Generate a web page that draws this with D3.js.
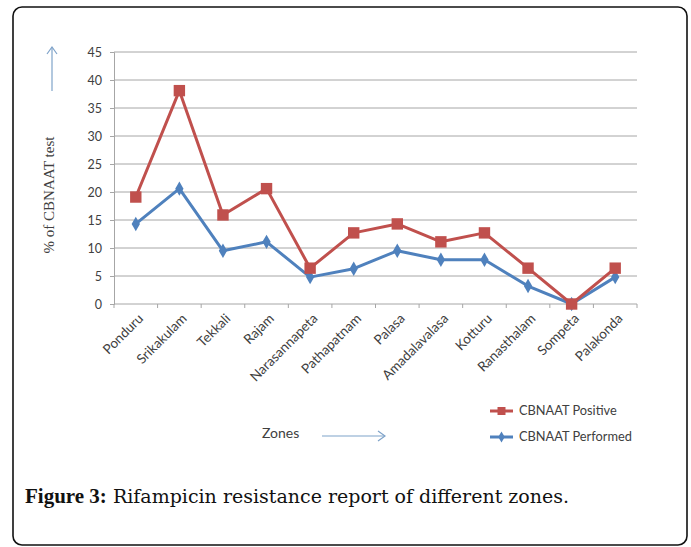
<!DOCTYPE html>
<html>
<head>
<meta charset="utf-8">
<script src="https://cdn.jsdelivr.net/npm/d3@7"></script>
<style>
  html, body { margin: 0; padding: 0; background: #fff; }
  svg { display: block; }
</style>
</head>
<body>
<svg id="chart" width="691" height="547"></svg>
<script>
// Zones and the two CBNAAT series (% of tests)
const zones = ["Ponduru", "Srikakulam", "Tekkali", "Rajam", "Narasannapeta", "Pathapatnam",
               "Palasa", "Amadalavalasa", "Kotturu", "Ranasthalam", "Sompeta", "Palakonda"];
const positive  = [19.1, 38.1, 15.9, 20.6, 6.4, 12.7, 14.3, 11.1, 12.7, 6.4, 0, 6.4];
const performed = [14.3, 20.6, 9.5, 11.1, 4.8, 6.3, 9.5, 7.9, 7.9, 3.2, 0, 4.8];
const yTicks = [0, 5, 10, 15, 20, 25, 30, 35, 40, 45];
const seriesNames = ["CBNAAT Positive", "CBNAAT Performed"];

const svg = d3.select("#chart");
const red = "#c0504d", blue = "#4f81bd";
const tickFont = "Lato, 'Open Sans', sans-serif";

// Figure frame
svg.append("rect")
  .attr("x", 13).attr("y", 7).attr("width", 674).attr("height", 538)
  .attr("rx", 9).attr("ry", 9)
  .attr("fill", "none").attr("stroke", "#111").attr("stroke-width", 1.6);

const plot = { left: 114, right: 637, top: 52, bottom: 304 };

const x = d3.scaleBand().domain(zones).range([plot.left, plot.right]);
const y = d3.scaleLinear().domain([0, 45]).range([plot.bottom, plot.top]);

// Horizontal gridlines
svg.append("g").selectAll("line").data(yTicks.filter(d => d > 0)).join("line")
  .attr("x1", plot.left).attr("x2", plot.right)
  .attr("y1", d => y(d)).attr("y2", d => y(d))
  .attr("stroke", "#a6a6a6").attr("stroke-width", 1);

// Y axis
const yAxis = svg.append("g")
  .attr("transform", `translate(${plot.left},0)`)
  .call(d3.axisLeft(y).tickValues(yTicks).tickSize(4).tickPadding(8));
yAxis.select(".domain").attr("stroke", "#a6a6a6");
yAxis.selectAll(".tick line").attr("stroke", "#a6a6a6");
yAxis.selectAll(".tick text")
  .attr("fill", "#404040").attr("font-family", tickFont).attr("font-size", 12.5);

// X axis: ticks at band edges, labels rotated
const xAxisG = svg.append("g").attr("transform", `translate(0,${plot.bottom})`);
xAxisG.append("line")
  .attr("x1", plot.left).attr("x2", plot.right)
  .attr("stroke", "#a6a6a6");
const edges = zones.map(z => x(z)).concat([plot.right]);
xAxisG.selectAll("line.edge").data(edges).join("line").attr("class", "edge")
  .attr("x1", d => d).attr("x2", d => d).attr("y1", 0).attr("y2", 4)
  .attr("stroke", "#a6a6a6");
xAxisG.selectAll("text").data(zones).join("text")
  .attr("transform", d => `translate(${x(d) + x.bandwidth() / 2 + 5},12) rotate(-45)`)
  .attr("text-anchor", "end").attr("dy", "0.35em")
  .attr("fill", "#404040").attr("font-family", tickFont).attr("font-size", 13.5)
  .text(d => d);

// Lines and markers
const line = d3.line()
  .x((d, i) => x(zones[i]) + x.bandwidth() / 2)
  .y(d => y(d));

function drawSeries(values, color, shape) {
  svg.append("path").datum(values)
    .attr("d", line).attr("fill", "none")
    .attr("stroke", color).attr("stroke-width", 3).attr("stroke-linejoin", "round");
  const sym = shape === "square"
    ? d3.symbol().type(d3.symbolSquare).size(130)
    : d3.symbol().type(d3.symbolDiamond).size(60);
  svg.append("g").selectAll("path").data(values).join("path")
    .attr("transform", (d, i) => `translate(${x(zones[i]) + x.bandwidth() / 2},${y(d)})`)
    .attr("d", sym).attr("fill", color);
}
drawSeries(performed, blue, "diamond");
drawSeries(positive, red, "square");

// Y axis title and arrow
svg.append("text")
  .attr("transform", "translate(54,195) rotate(-90)")
  .attr("text-anchor", "middle")
  .attr("font-family", "'Liberation Serif', 'DejaVu Serif', serif").attr("font-size", 15)
  .attr("fill", "#404040")
  .text("% of CBNAAT test");

const arrowColor = "#7fa3c9";
svg.append("line").attr("x1", 52).attr("x2", 52).attr("y1", 47).attr("y2", 91)
  .attr("stroke", arrowColor).attr("stroke-width", 1.2);
svg.append("path").attr("d", "M47,54 L52,47 L57,54")
  .attr("fill", "none").attr("stroke", arrowColor).attr("stroke-width", 1.2);

// "Zones" label with arrow
svg.append("text").attr("x", 262).attr("y", 438)
  .attr("font-family", tickFont).attr("font-size", 14).attr("fill", "#404040")
  .text("Zones");
svg.append("line").attr("x1", 322).attr("x2", 385).attr("y1", 436).attr("y2", 436)
  .attr("stroke", arrowColor).attr("stroke-width", 1.2);
svg.append("path").attr("d", "M378,431 L385,436 L378,441")
  .attr("fill", "none").attr("stroke", arrowColor).attr("stroke-width", 1.2);

// Legend
const legend = svg.append("g").attr("transform", "translate(490,411)");
[[seriesNames[0], red, "square"], [seriesNames[1], blue, "diamond"]].forEach(([name, color, shape], i) => {
  const g = legend.append("g").attr("transform", `translate(0,${i * 26})`);
  g.append("line").attr("x1", 0).attr("x2", 23).attr("stroke", color).attr("stroke-width", 3);
  g.append("path").attr("transform", "translate(11.5,0)")
    .attr("d", shape === "square" ? d3.symbol().type(d3.symbolSquare).size(64)()
                                  : d3.symbol().type(d3.symbolDiamond).size(36)())
    .attr("fill", color);
  g.append("text").attr("x", 29).attr("dy", "0.35em")
    .attr("font-family", tickFont).attr("font-size", 12.8).attr("fill", "#404040")
    .text(name);
});

// Caption
const cap = svg.append("text").attr("x", 25).attr("y", 503)
  .attr("font-family", "'DejaVu Serif', serif").attr("font-size", 19)
  .attr("fill", "#111");
cap.append("tspan").attr("font-weight", "bold").attr("font-family", "'Liberation Serif', serif")
  .attr("font-size", 21).text("Figure 3:");
cap.append("tspan").text(" Rifampicin resistance report of different zones.");
</script>
</body>
</html>
